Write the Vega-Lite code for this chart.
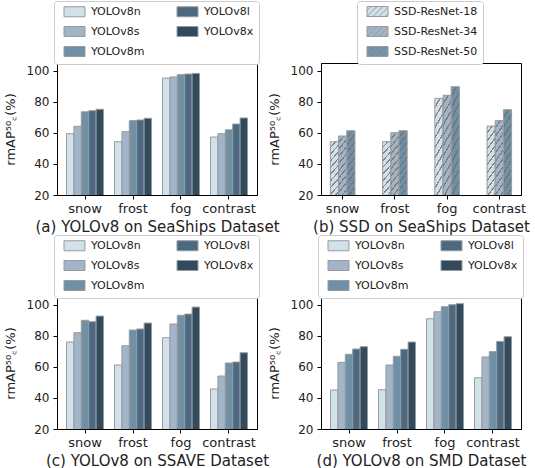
{
  "$schema": "https://vega.github.io/schema/vega-lite/v6.json",
  "padding": {"left": 3, "top": 0, "right": 0, "bottom": 0},
  "background": "white",
  "config": {
    "view": {"stroke": "black", "strokeWidth": 1},
    "axis": {"domainColor": "black", "tickColor": "black", "tickSize": 4, "labelFont": "DejaVu Sans", "titleFont": "DejaVu Sans", "labelColor": "#222", "titleColor": "#222", "labelFontSize": 12, "titleFontWeight": "normal", "grid": false},
    "axisX": {"labelAngle": 0, "titleFontSize": 15, "labelFontSize": 13, "labelPadding": 3, "titlePadding": 4},
    "axisY": {"titleFontSize": 13, "titlePadding": 9, "labelPadding": 4},
    "legend": {"orient": "none", "labelFont": "DejaVu Sans", "labelFontSize": 11, "labelColor": "#222", "fillColor": "white", "strokeColor": "#cccccc", "cornerRadius": 3, "padding": 5, "rowPadding": 5, "columnPadding": 27, "symbolStrokeColor": "#9a9a9a", "symbolStrokeWidth": 1, "symbolSize": 100, "labelOffset": 21, "symbolOpacity": 1}
  },
  "datasets": {
    "yolo_seaships": [
      {"cond": "snow", "model": "YOLOv8n", "value": 59.5}, {"cond": "snow", "model": "YOLOv8s", "value": 64.2}, {"cond": "snow", "model": "YOLOv8m", "value": 73.6}, {"cond": "snow", "model": "YOLOv8l", "value": 74.3}, {"cond": "snow", "model": "YOLOv8x", "value": 75.2},
      {"cond": "frost", "model": "YOLOv8n", "value": 54.3}, {"cond": "frost", "model": "YOLOv8s", "value": 60.8}, {"cond": "frost", "model": "YOLOv8m", "value": 67.9}, {"cond": "frost", "model": "YOLOv8l", "value": 68.3}, {"cond": "frost", "model": "YOLOv8x", "value": 69.4},
      {"cond": "fog", "model": "YOLOv8n", "value": 95.3}, {"cond": "fog", "model": "YOLOv8s", "value": 96.0}, {"cond": "fog", "model": "YOLOv8m", "value": 97.5}, {"cond": "fog", "model": "YOLOv8l", "value": 97.9}, {"cond": "fog", "model": "YOLOv8x", "value": 98.3},
      {"cond": "contrast", "model": "YOLOv8n", "value": 57.3}, {"cond": "contrast", "model": "YOLOv8s", "value": 59.5}, {"cond": "contrast", "model": "YOLOv8m", "value": 62.0}, {"cond": "contrast", "model": "YOLOv8l", "value": 65.7}, {"cond": "contrast", "model": "YOLOv8x", "value": 69.6}
    ],
    "ssd_seaships": [
      {"cond": "snow", "model": "SSD-ResNet-18", "value": 54.3}, {"cond": "snow", "model": "SSD-ResNet-34", "value": 58.0}, {"cond": "snow", "model": "SSD-ResNet-50", "value": 61.4},
      {"cond": "frost", "model": "SSD-ResNet-18", "value": 54.3}, {"cond": "frost", "model": "SSD-ResNet-34", "value": 60.1}, {"cond": "frost", "model": "SSD-ResNet-50", "value": 61.4},
      {"cond": "fog", "model": "SSD-ResNet-18", "value": 82.2}, {"cond": "fog", "model": "SSD-ResNet-34", "value": 84.2}, {"cond": "fog", "model": "SSD-ResNet-50", "value": 89.7},
      {"cond": "contrast", "model": "SSD-ResNet-18", "value": 64.4}, {"cond": "contrast", "model": "SSD-ResNet-34", "value": 67.9}, {"cond": "contrast", "model": "SSD-ResNet-50", "value": 74.9}
    ],
    "yolo_ssave": [
      {"cond": "snow", "model": "YOLOv8n", "value": 76.0}, {"cond": "snow", "model": "YOLOv8s", "value": 82.0}, {"cond": "snow", "model": "YOLOv8m", "value": 90.0}, {"cond": "snow", "model": "YOLOv8l", "value": 89.1}, {"cond": "snow", "model": "YOLOv8x", "value": 92.7},
      {"cond": "frost", "model": "YOLOv8n", "value": 61.2}, {"cond": "frost", "model": "YOLOv8s", "value": 73.6}, {"cond": "frost", "model": "YOLOv8m", "value": 83.7}, {"cond": "frost", "model": "YOLOv8l", "value": 84.4}, {"cond": "frost", "model": "YOLOv8x", "value": 88.2},
      {"cond": "fog", "model": "YOLOv8n", "value": 78.8}, {"cond": "fog", "model": "YOLOv8s", "value": 87.6}, {"cond": "fog", "model": "YOLOv8m", "value": 93.2}, {"cond": "fog", "model": "YOLOv8l", "value": 94.0}, {"cond": "fog", "model": "YOLOv8x", "value": 98.5},
      {"cond": "contrast", "model": "YOLOv8n", "value": 45.8}, {"cond": "contrast", "model": "YOLOv8s", "value": 54.1}, {"cond": "contrast", "model": "YOLOv8m", "value": 62.5}, {"cond": "contrast", "model": "YOLOv8l", "value": 63.1}, {"cond": "contrast", "model": "YOLOv8x", "value": 69.1}
    ],
    "yolo_smd": [
      {"cond": "snow", "model": "YOLOv8n", "value": 45.1}, {"cond": "snow", "model": "YOLOv8s", "value": 62.9}, {"cond": "snow", "model": "YOLOv8m", "value": 68.1}, {"cond": "snow", "model": "YOLOv8l", "value": 71.5}, {"cond": "snow", "model": "YOLOv8x", "value": 73.0},
      {"cond": "frost", "model": "YOLOv8n", "value": 45.3}, {"cond": "frost", "model": "YOLOv8s", "value": 61.2}, {"cond": "frost", "model": "YOLOv8m", "value": 66.8}, {"cond": "frost", "model": "YOLOv8l", "value": 71.3}, {"cond": "frost", "model": "YOLOv8x", "value": 76.0},
      {"cond": "fog", "model": "YOLOv8n", "value": 91.0}, {"cond": "fog", "model": "YOLOv8s", "value": 95.5}, {"cond": "fog", "model": "YOLOv8m", "value": 98.8}, {"cond": "fog", "model": "YOLOv8l", "value": 100.0}, {"cond": "fog", "model": "YOLOv8x", "value": 100.7},
      {"cond": "contrast", "model": "YOLOv8n", "value": 53.0}, {"cond": "contrast", "model": "YOLOv8s", "value": 66.4}, {"cond": "contrast", "model": "YOLOv8m", "value": 69.8}, {"cond": "contrast", "model": "YOLOv8l", "value": 76.4}, {"cond": "contrast", "model": "YOLOv8x", "value": 79.4}
    ]
  },
  "bounds": "flush",
  "columns": 2,
  "spacing": {"row": 102, "column": 64},
  "resolve": {"scale": {"color": "independent", "xOffset": "independent"}, "legend": {"color": "independent"}},
  "concat": [
    {
      "width": 200, "height": 132,
      "data": {"name": "yolo_seaships"},
      "mark": {"type": "bar", "stroke": "#9a9a9a", "strokeWidth": 1, "clip": true},
      "encoding": {
        "x": {"field": "cond", "type": "nominal", "sort": ["snow", "frost", "fog", "contrast"], "scale": {"paddingInner": 0.229, "paddingOuter": 0.198}, "axis": {"title": "(a) YOLOv8 on SeaShips Dataset"}},
        "xOffset": {"field": "model", "type": "nominal", "sort": ["YOLOv8n", "YOLOv8s", "YOLOv8m", "YOLOv8l", "YOLOv8x"]},
        "y": {"field": "value", "type": "quantitative", "scale": {"domain": [20, 105], "nice": false, "zero": false}, "axis": {"values": [20, 40, 60, 80, 100], "title": "rmAP⁵⁰꜀(%)"}},
        "color": {"field": "model", "type": "nominal", "scale": {"domain": ["YOLOv8n", "YOLOv8s", "YOLOv8m", "YOLOv8l", "YOLOv8x"], "range": ["#d1e1ea", "#a2b5c8", "#7090a8", "#4a6983", "#324a5e"]}, "legend": {"title": null, "columns": 2, "legendX": -3, "legendY": -62, "symbolType": "M-0.1,-1H4.1V1H-0.1Z"}}
      }
    },
    {
      "width": 200, "height": 132,
      "data": {"name": "ssd_seaships"},
      "encoding": {
        "x": {"field": "cond", "type": "nominal", "sort": ["snow", "frost", "fog", "contrast"], "scale": {"paddingInner": 0.53, "paddingOuter": 0.18}, "axis": {"title": "(b) SSD on SeaShips Dataset"}},
        "xOffset": {"field": "model", "type": "nominal", "sort": ["SSD-ResNet-18", "SSD-ResNet-34", "SSD-ResNet-50"]},
        "y": {"field": "value", "type": "quantitative", "scale": {"domain": [20, 105], "nice": false, "zero": false}, "axis": {"values": [20, 40, 60, 80, 100], "title": "rmAP⁵⁰꜀(%)"}}
      },
      "layer": [
        {
          "mark": {"type": "bar", "clip": true},
          "encoding": {
            "color": {"field": "model", "type": "nominal", "scale": {"domain": ["SSD-ResNet-18", "SSD-ResNet-34", "SSD-ResNet-50"], "range": ["#d1e1ea", "#a2b5c8", "#7090a8"]}, "legend": {"title": null, "columns": 1, "legendX": 36, "legendY": -62, "symbolType": "M-0.1,-1H4.1V1H-0.1Z M-0.1,-0.2L0.7,-1 M-0.1,1L1.9,-1 M1.1,1L3.1,-1 M2.3,1L4.1,-0.8 M3.5,1L4.1,0.4"}}
          }
        },
        {
          "mark": {
            "type": "bar", "clip": true, "stroke": "#9a9a9a", "strokeWidth": 1,
            "fill": {
              "gradient": "linear", "x1": 0, "y1": 0, "x2": 0.1198, "y2": 1.0962,
              "stops": [
                {"offset": 0, "color": "rgba(0,0,0,0)"}, {"offset": 0.0536, "color": "rgba(0,0,0,0)"}, {"offset": 0.0536, "color": "rgba(110,110,110,0.8)"}, {"offset": 0.0714, "color": "rgba(110,110,110,0.8)"},
                {"offset": 0.0714, "color": "rgba(0,0,0,0)"}, {"offset": 0.125, "color": "rgba(0,0,0,0)"}, {"offset": 0.125, "color": "rgba(110,110,110,0.8)"}, {"offset": 0.1429, "color": "rgba(110,110,110,0.8)"},
                {"offset": 0.1429, "color": "rgba(0,0,0,0)"}, {"offset": 0.1964, "color": "rgba(0,0,0,0)"}, {"offset": 0.1964, "color": "rgba(110,110,110,0.8)"}, {"offset": 0.2143, "color": "rgba(110,110,110,0.8)"},
                {"offset": 0.2143, "color": "rgba(0,0,0,0)"}, {"offset": 0.2679, "color": "rgba(0,0,0,0)"}, {"offset": 0.2679, "color": "rgba(110,110,110,0.8)"}, {"offset": 0.2857, "color": "rgba(110,110,110,0.8)"},
                {"offset": 0.2857, "color": "rgba(0,0,0,0)"}, {"offset": 0.3393, "color": "rgba(0,0,0,0)"}, {"offset": 0.3393, "color": "rgba(110,110,110,0.8)"}, {"offset": 0.3571, "color": "rgba(110,110,110,0.8)"},
                {"offset": 0.3571, "color": "rgba(0,0,0,0)"}, {"offset": 0.4107, "color": "rgba(0,0,0,0)"}, {"offset": 0.4107, "color": "rgba(110,110,110,0.8)"}, {"offset": 0.4286, "color": "rgba(110,110,110,0.8)"},
                {"offset": 0.4286, "color": "rgba(0,0,0,0)"}, {"offset": 0.4821, "color": "rgba(0,0,0,0)"}, {"offset": 0.4821, "color": "rgba(110,110,110,0.8)"}, {"offset": 0.5, "color": "rgba(110,110,110,0.8)"},
                {"offset": 0.5, "color": "rgba(0,0,0,0)"}, {"offset": 0.5536, "color": "rgba(0,0,0,0)"}, {"offset": 0.5536, "color": "rgba(110,110,110,0.8)"}, {"offset": 0.5714, "color": "rgba(110,110,110,0.8)"},
                {"offset": 0.5714, "color": "rgba(0,0,0,0)"}, {"offset": 0.625, "color": "rgba(0,0,0,0)"}, {"offset": 0.625, "color": "rgba(110,110,110,0.8)"}, {"offset": 0.6429, "color": "rgba(110,110,110,0.8)"},
                {"offset": 0.6429, "color": "rgba(0,0,0,0)"}, {"offset": 0.6964, "color": "rgba(0,0,0,0)"}, {"offset": 0.6964, "color": "rgba(110,110,110,0.8)"}, {"offset": 0.7143, "color": "rgba(110,110,110,0.8)"},
                {"offset": 0.7143, "color": "rgba(0,0,0,0)"}, {"offset": 0.7679, "color": "rgba(0,0,0,0)"}, {"offset": 0.7679, "color": "rgba(110,110,110,0.8)"}, {"offset": 0.7857, "color": "rgba(110,110,110,0.8)"},
                {"offset": 0.7857, "color": "rgba(0,0,0,0)"}, {"offset": 0.8393, "color": "rgba(0,0,0,0)"}, {"offset": 0.8393, "color": "rgba(110,110,110,0.8)"}, {"offset": 0.8571, "color": "rgba(110,110,110,0.8)"},
                {"offset": 0.8571, "color": "rgba(0,0,0,0)"}, {"offset": 0.9107, "color": "rgba(0,0,0,0)"}, {"offset": 0.9107, "color": "rgba(110,110,110,0.8)"}, {"offset": 0.9286, "color": "rgba(110,110,110,0.8)"},
                {"offset": 0.9286, "color": "rgba(0,0,0,0)"}, {"offset": 0.9821, "color": "rgba(0,0,0,0)"}, {"offset": 0.9821, "color": "rgba(110,110,110,0.8)"}, {"offset": 1, "color": "rgba(110,110,110,0.8)"}
              ]
            }
          }
        }
      ]
    },
    {
      "width": 200, "height": 132,
      "data": {"name": "yolo_ssave"},
      "mark": {"type": "bar", "stroke": "#9a9a9a", "strokeWidth": 1, "clip": true},
      "encoding": {
        "x": {"field": "cond", "type": "nominal", "sort": ["snow", "frost", "fog", "contrast"], "scale": {"paddingInner": 0.229, "paddingOuter": 0.198}, "axis": {"title": "(c) YOLOv8 on SSAVE Dataset"}},
        "xOffset": {"field": "model", "type": "nominal", "sort": ["YOLOv8n", "YOLOv8s", "YOLOv8m", "YOLOv8l", "YOLOv8x"]},
        "y": {"field": "value", "type": "quantitative", "scale": {"domain": [20, 105], "nice": false, "zero": false}, "axis": {"values": [20, 40, 60, 80, 100], "title": "rmAP⁵⁰꜀(%)"}},
        "color": {"field": "model", "type": "nominal", "scale": {"domain": ["YOLOv8n", "YOLOv8s", "YOLOv8m", "YOLOv8l", "YOLOv8x"], "range": ["#d1e1ea", "#a2b5c8", "#7090a8", "#4a6983", "#324a5e"]}, "legend": {"title": null, "columns": 2, "legendX": -3, "legendY": -62, "symbolType": "M-0.1,-1H4.1V1H-0.1Z"}}
      }
    },
    {
      "width": 200, "height": 132,
      "data": {"name": "yolo_smd"},
      "mark": {"type": "bar", "stroke": "#9a9a9a", "strokeWidth": 1, "clip": true},
      "encoding": {
        "x": {"field": "cond", "type": "nominal", "sort": ["snow", "frost", "fog", "contrast"], "scale": {"paddingInner": 0.229, "paddingOuter": 0.198}, "axis": {"title": "(d) YOLOv8 on SMD Dataset"}},
        "xOffset": {"field": "model", "type": "nominal", "sort": ["YOLOv8n", "YOLOv8s", "YOLOv8m", "YOLOv8l", "YOLOv8x"]},
        "y": {"field": "value", "type": "quantitative", "scale": {"domain": [20, 105], "nice": false, "zero": false}, "axis": {"values": [20, 40, 60, 80, 100], "title": "rmAP⁵⁰꜀(%)"}},
        "color": {"field": "model", "type": "nominal", "scale": {"domain": ["YOLOv8n", "YOLOv8s", "YOLOv8m", "YOLOv8l", "YOLOv8x"], "range": ["#d1e1ea", "#a2b5c8", "#7090a8", "#4a6983", "#324a5e"]}, "legend": {"title": null, "columns": 2, "legendX": -3, "legendY": -62, "symbolType": "M-0.1,-1H4.1V1H-0.1Z"}}
      }
    }
  ]
}
